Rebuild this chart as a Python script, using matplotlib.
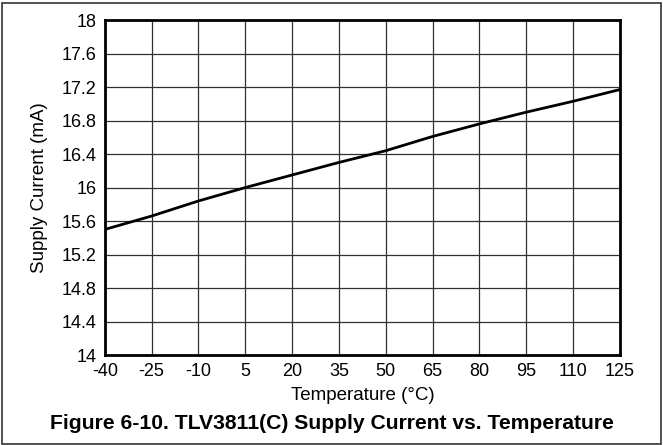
import matplotlib.pyplot as plt
from matplotlib.patches import Rectangle

plt.rcParams['font.family'] = ['Liberation Sans', 'DejaVu Sans']
plt.rcParams['axes.unicode_minus'] = False

temperature = [-40, -25, -10, 5, 20, 35, 50, 65, 80, 95, 110, 125]
supply_current = [15.50, 15.66, 15.84, 16.00, 16.15, 16.30, 16.44, 16.61,
                  16.76, 16.90, 17.03, 17.17]
x_ticks = [-40, -25, -10, 5, 20, 35, 50, 65, 80, 95, 110, 125]
y_ticks = [14, 14.4, 14.8, 15.2, 15.6, 16, 16.4, 16.8, 17.2, 17.6, 18]
y_tick_labels = ['14', '14.4', '14.8', '15.2', '15.6', '16', '16.4', '16.8',
                 '17.2', '17.6', '18']

fig = plt.figure(figsize=(6.63, 4.45), dpi=100)
ax = fig.add_axes([0.158, 0.202, 0.777, 0.753])

ax.plot(temperature, supply_current, color='black', linewidth=2)

ax.set_xlim(-40, 125)
ax.set_ylim(14, 18)
ax.set_xticks(x_ticks)
ax.set_yticks(y_ticks)
ax.set_yticklabels(y_tick_labels)
ax.tick_params(length=0, labelsize=13)
ax.tick_params(axis='x', pad=6)
ax.tick_params(axis='y', pad=6)
ax.grid(True, color='#303030', linewidth=0.9)
for spine in ax.spines.values():
    spine.set_linewidth(2)
    spine.set_color('black')

ax.set_xlabel('Temperature (°C)', fontsize=13.5, va='center')
ax.xaxis.set_label_coords(0.5, -0.12)
ax.set_ylabel('Supply Current (mA)', fontsize=13.5, va='center')
ax.yaxis.set_label_coords(-0.126, 0.5)

fig.text(0.5, 0.048, 'Figure 6-10. TLV3811(C) Supply Current vs. Temperature',
         ha='center', va='center', fontsize=15.2, fontweight='bold')

# outer frame
fig.patches.append(Rectangle((0.003, 0.003), 0.994, 0.99, transform=fig.transFigure,
                             fill=False, edgecolor='#333333', linewidth=1.2))

fig.savefig('out.png', dpi=100)
